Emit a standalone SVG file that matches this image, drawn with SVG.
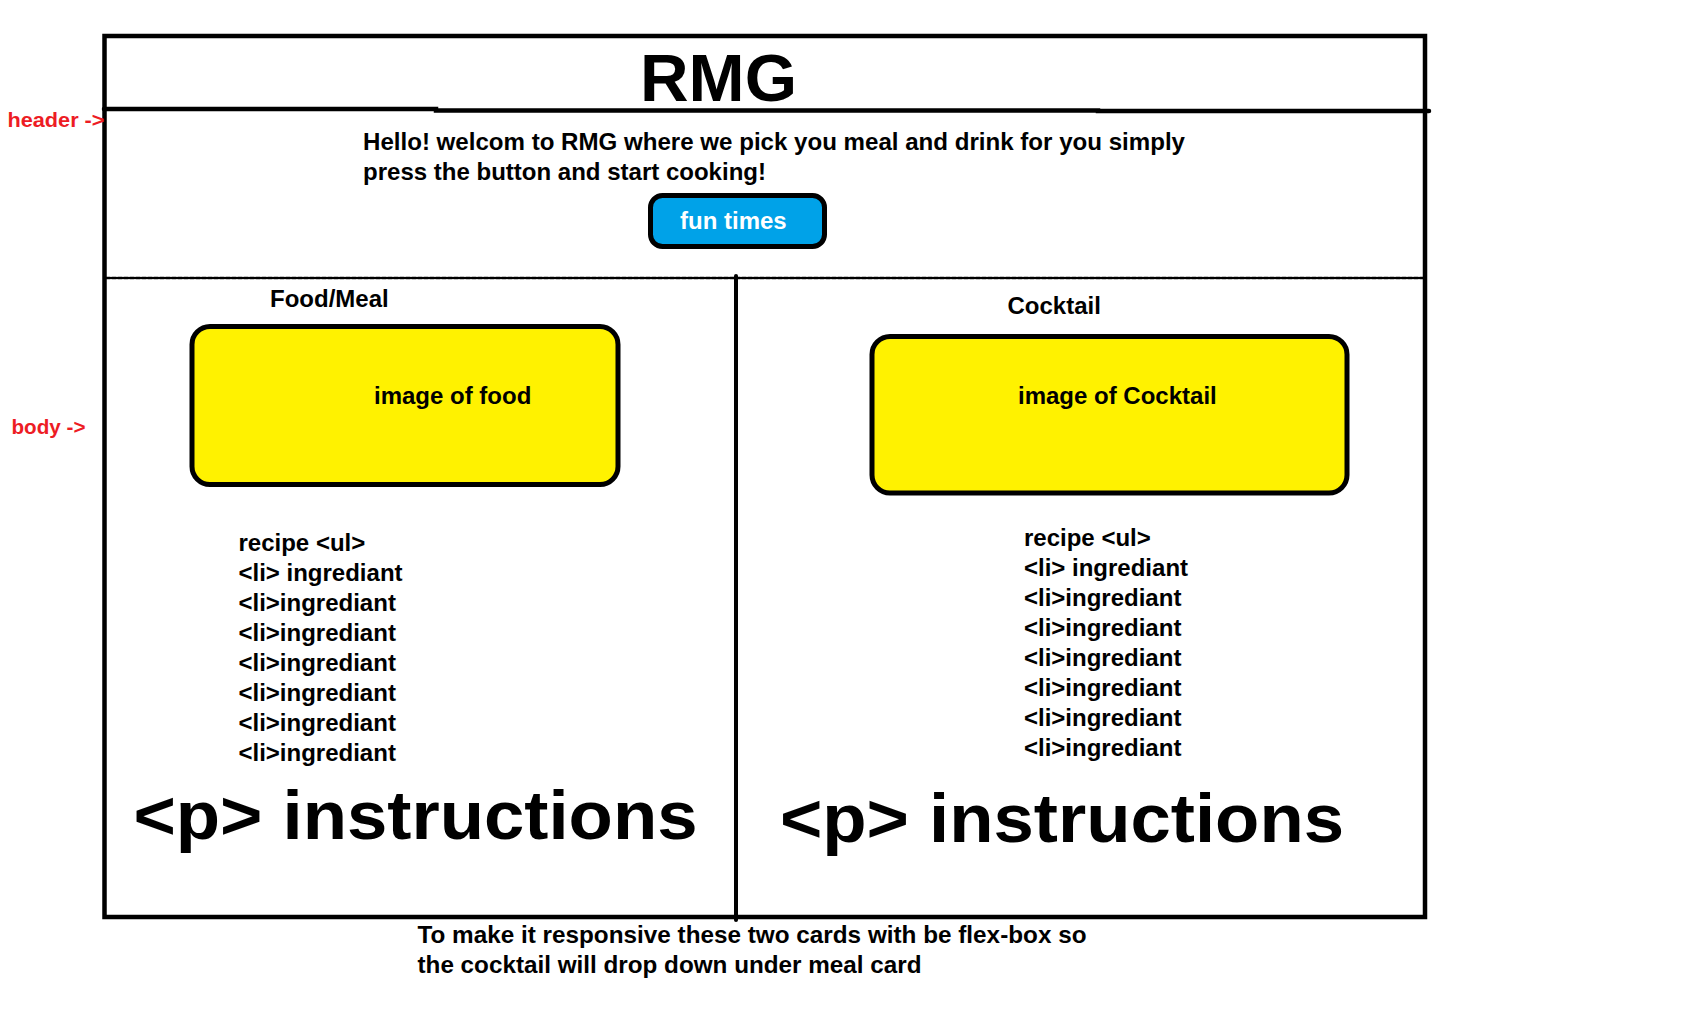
<svg xmlns="http://www.w3.org/2000/svg" width="1688" height="1010" viewBox="0 0 1688 1010">
  <style>
    text { font-family: "Liberation Sans", Arial, sans-serif; font-weight: bold; fill: #000; }
    .t24 { font-size: 24px; }
    .big { font-size: 68px; }
    .red { fill: #ed1c24; font-size: 21px; }
    .white { fill: #ffffff; }
    .line { stroke: #000; fill: none; stroke-linecap: round; }
    .card { fill: #fff200; stroke: #000; stroke-width: 5; }
  </style>
  <rect width="1688" height="1010" fill="#ffffff"/>

  <g id="frame">
    <rect x="104.5" y="36" width="1320.5" height="881" class="line" stroke-width="4.5" stroke-linecap="butt"/>
    <polyline class="line" stroke-width="4.5" points="104,109 436,109 436,110.5 1098,110.5 1098,111 1429,111"/>
    <line class="line" x1="106" y1="278" x2="1423" y2="278" stroke-width="2.6" stroke-dasharray="4 2" stroke-linecap="butt"/>
    <line class="line" x1="736" y1="276" x2="736" y2="920" stroke-width="4"/>
  </g>

  <g id="labels">
    <text class="red" x="7.5" y="126.5" textLength="97" lengthAdjust="spacingAndGlyphs">header -&gt;</text>
    <text class="red" x="11.5" y="434" textLength="74" lengthAdjust="spacingAndGlyphs">body -&gt;</text>
  </g>

  <g id="header">
    <text x="640" y="100.5" font-size="66" textLength="157" lengthAdjust="spacingAndGlyphs">RMG</text>
  </g>

  <g id="intro">
    <text class="t24" x="363" y="149.5" textLength="822" lengthAdjust="spacingAndGlyphs">Hello! welcom to RMG where we pick you meal and drink for you simply</text>
    <text class="t24" x="363" y="179.5" textLength="403" lengthAdjust="spacingAndGlyphs">press the button and start cooking!</text>
  </g>

  <g id="button">
    <rect x="650.5" y="195.5" width="174" height="51" rx="12" ry="12" fill="#00a2e8" stroke="#000" stroke-width="5"/>
    <text class="t24 white" x="680" y="228.5">fun times</text>
  </g>

  <g id="food-card">
    <text class="t24" x="270" y="306.5">Food/Meal</text>
    <rect class="card" x="192" y="326.5" width="426" height="158" rx="18" ry="18"/>
    <text class="t24" x="374" y="403.5">image of food</text>
    <text class="t24" x="238.5" y="551">recipe &lt;ul&gt;</text>
    <text class="t24" x="238.5" y="581">&lt;li&gt; ingrediant</text>
    <text class="t24" x="238.5" y="611">&lt;li&gt;ingrediant</text>
    <text class="t24" x="238.5" y="641">&lt;li&gt;ingrediant</text>
    <text class="t24" x="238.5" y="671">&lt;li&gt;ingrediant</text>
    <text class="t24" x="238.5" y="701">&lt;li&gt;ingrediant</text>
    <text class="t24" x="238.5" y="731">&lt;li&gt;ingrediant</text>
    <text class="t24" x="238.5" y="761">&lt;li&gt;ingrediant</text>
    <text class="big" x="133.5" y="838.5" textLength="564" lengthAdjust="spacingAndGlyphs">&lt;p&gt; instructions</text>
  </g>

  <g id="cocktail-card">
    <text class="t24" x="1007.5" y="313.5">Cocktail</text>
    <rect class="card" x="872" y="336.5" width="475" height="156.5" rx="18" ry="18"/>
    <text class="t24" x="1018" y="404">image of Cocktail</text>
    <text class="t24" x="1024" y="545.5">recipe &lt;ul&gt;</text>
    <text class="t24" x="1024" y="575.5">&lt;li&gt; ingrediant</text>
    <text class="t24" x="1024" y="605.5">&lt;li&gt;ingrediant</text>
    <text class="t24" x="1024" y="635.5">&lt;li&gt;ingrediant</text>
    <text class="t24" x="1024" y="665.5">&lt;li&gt;ingrediant</text>
    <text class="t24" x="1024" y="695.5">&lt;li&gt;ingrediant</text>
    <text class="t24" x="1024" y="725.5">&lt;li&gt;ingrediant</text>
    <text class="t24" x="1024" y="755.5">&lt;li&gt;ingrediant</text>
    <text class="big" x="780" y="841.5" textLength="564" lengthAdjust="spacingAndGlyphs">&lt;p&gt; instructions</text>
  </g>

  <g id="note">
    <text class="t24" x="417.5" y="943" textLength="669" lengthAdjust="spacingAndGlyphs">To make it responsive these two cards with be flex-box so</text>
    <text class="t24" x="417.5" y="972.5" textLength="504" lengthAdjust="spacingAndGlyphs">the cocktail will drop down under meal card</text>
  </g>
</svg>
